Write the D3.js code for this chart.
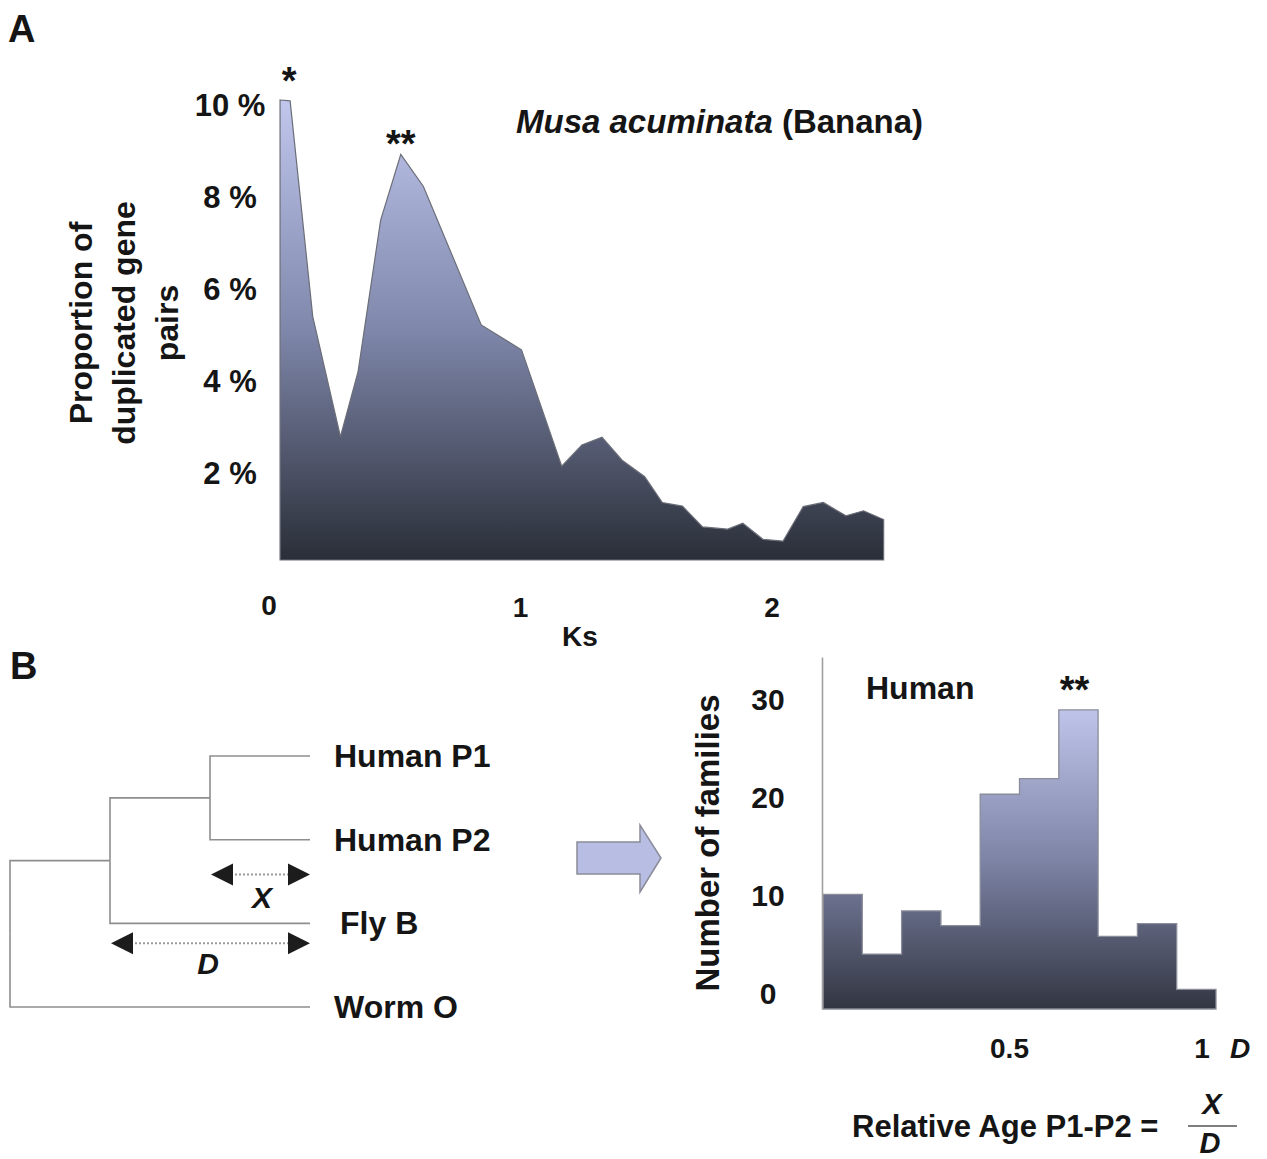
<!DOCTYPE html>
<html>
<head>
<meta charset="utf-8">
<script src="https://cdn.jsdelivr.net/npm/d3@7"></script>
<style>
  body { margin: 0; background: #fff; }
  text { font-family: "Liberation Sans", Arial, sans-serif; font-weight: bold; fill: #151515; }
</style>
</head>
<body>
<div class="myChart"></div>
<script>
var svgWidth = 1267;
var svgHeight = 1159;

// Panel A: Ks distribution (banana)
var ksValues = [0.04, 0.08, 0.17, 0.28, 0.35, 0.44, 0.52, 0.61, 0.84, 1.00, 1.16, 1.24, 1.32, 1.40,
  1.49, 1.56, 1.64, 1.72, 1.82, 1.88, 1.96, 2.04, 2.12, 2.20, 2.29, 2.36, 2.44];
var proportions = [10.0, 9.98, 5.29, 2.68, 4.09, 7.39, 8.82, 8.12, 5.11, 4.57, 2.04, 2.50, 2.67, 2.17,
  1.81, 1.25, 1.17, 0.72, 0.67, 0.80, 0.45, 0.41, 1.16, 1.25, 0.96, 1.07, 0.88];
var percentTicks = [2, 4, 6, 8, 10];
var ksTicks = [0, 1, 2];

// Panel B: histogram of relative ages
var binStarts = [0, 0.1, 0.2, 0.3, 0.4, 0.5, 0.6, 0.7, 0.8, 0.9];
var familyCounts = [10.2, 4.1, 8.5, 7.0, 20.4, 22.0, 29.0, 5.9, 7.2, 0.5];
var familyTicks = [0, 10, 20, 30];
var ageTicks = [0.5, 1];

// Panel B: tree
var treeData = {
  name: "root", children: [
    { name: "n1", children: [
      { name: "n2", children: [{ name: "Human P1" }, { name: "Human P2" }] },
      { name: "Fly B" }
    ] },
    { name: "Worm O" }
  ]
};

var svg = d3.select(".myChart")
  .append("svg")
  .attr("width", svgWidth)
  .attr("height", svgHeight);

var defs = svg.append("defs");

// ---------- panel A ----------
var xScale = d3.scaleLinear().domain([0, 2]).range([270, 773]);
var yScale = d3.scaleLinear().domain([0, 10]).range([560, 100]);

var gradA = defs.append("linearGradient")
  .attr("id", "gradA")
  .attr("gradientUnits", "userSpaceOnUse")
  .attr("x1", 0).attr("x2", 0)
  .attr("y1", yScale(10)).attr("y2", yScale(0));
gradA.append("stop").attr("offset", "0%").attr("stop-color", "#c0c6ec");
gradA.append("stop").attr("offset", "50%").attr("stop-color", "#7f87ab");
gradA.append("stop").attr("offset", "100%").attr("stop-color", "#2a2e38");

var ksData = ksValues.map(function(k, i) { return { ks: k, p: proportions[i] }; });

var area = d3.area()
  .x(function(d) { return xScale(d.ks); })
  .y0(yScale(0))
  .y1(function(d) { return yScale(d.p); });

svg.append("path")
  .datum(ksData)
  .attr("d", area)
  .attr("fill", "url(#gradA)")
  .attr("stroke", "#6b6e78")
  .attr("stroke-width", 1.2);

svg.selectAll(".pctTick")
  .data(percentTicks)
  .enter().append("text")
  .attr("class", "pctTick")
  .attr("x", 230)
  .attr("y", function(d) { return yScale(d) + 16; })
  .attr("text-anchor", "middle")
  .style("font-size", "31px")
  .text(function(d) { return d + " %"; });

svg.selectAll(".ksTick")
  .data(ksTicks)
  .enter().append("text")
  .attr("class", "ksTick")
  .attr("x", function(d) { return xScale(d) - 1; })
  .attr("y", function(d, i) { return i === 0 ? 615 : 617; })
  .attr("text-anchor", "middle")
  .style("font-size", "28px")
  .text(function(d) { return d; });

svg.append("text")
  .attr("x", 580).attr("y", 646)
  .attr("text-anchor", "middle")
  .style("font-size", "28px")
  .text("Ks");

var yLabel = svg.append("text")
  .attr("transform", "translate(0,323) rotate(-90)")
  .attr("text-anchor", "middle")
  .style("font-size", "32px");
["Proportion of", "duplicated gene", "pairs"].forEach(function(t, i) {
  yLabel.append("tspan").attr("x", 0).attr("y", 92 + i * 43).text(t);
});

var title = svg.append("text")
  .attr("x", 516).attr("y", 133)
  .style("font-size", "33px");
title.append("tspan").style("font-style", "italic").text("Musa acuminata");
title.append("tspan").text(" (Banana)");

svg.append("text")
  .attr("x", xScale(0.04) + 9).attr("y", yScale(10) - 6)
  .attr("text-anchor", "middle")
  .style("font-size", "38px")
  .text("*");

svg.append("text")
  .attr("x", xScale(0.52)).attr("y", yScale(8.82) + 3)
  .attr("text-anchor", "middle")
  .style("font-size", "38px")
  .text("**");

svg.append("text").attr("x", 8).attr("y", 42).style("font-size", "38px").text("A");
svg.append("text").attr("x", 10).attr("y", 679).style("font-size", "38px").text("B");

// ---------- panel B: tree ----------
var root = d3.hierarchy(treeData);
// four leaves, one slot each: leaf centres are 3/4 of the layout height apart
d3.cluster().size([334.7, 300]).separation(function() { return 1; })(root);

var tree = svg.append("g").attr("transform", "translate(10,714.2)");

tree.selectAll(".link")
  .data(root.links())
  .enter().append("path")
  .attr("class", "link")
  .attr("fill", "none")
  .attr("stroke", "#8e8e8e")
  .attr("stroke-width", 1.6)
  .attr("d", function(d) {
    return "M" + d.source.y + "," + d.source.x + "V" + d.target.x + "H" + d.target.y;
  });

tree.selectAll(".leaf")
  .data(root.leaves())
  .enter().append("text")
  .attr("class", "leaf")
  .attr("x", function(d) { return d.y + (d.data.name === "Fly B" ? 30 : 24); })
  .attr("y", function(d) { return d.x + 11; })
  .style("font-size", "32px")
  .text(function(d) { return d.data.name; });

function dimArrow(g, x1, x2, y) {
  g.append("line")
    .attr("x1", x1 + 20).attr("x2", x2 - 20)
    .attr("y1", y).attr("y2", y)
    .attr("stroke", "#9a9a9a")
    .attr("stroke-width", 2)
    .attr("stroke-dasharray", "2,2");
  g.append("path")
    .attr("d", "M" + x1 + "," + y + "L" + (x1 + 22) + "," + (y - 11) + "L" + (x1 + 22) + "," + (y + 11) + "Z")
    .attr("fill", "#1c1c1c");
  g.append("path")
    .attr("d", "M" + x2 + "," + y + "L" + (x2 - 22) + "," + (y - 11) + "L" + (x2 - 22) + "," + (y + 11) + "Z")
    .attr("fill", "#1c1c1c");
}

var nodes = {};
root.descendants().forEach(function(n) { nodes[n.data.name] = n; });

var xY = (nodes["Human P2"].x + nodes["Fly B"].x) / 2 - 7;
dimArrow(tree, nodes["n2"].y + 1, nodes["Human P2"].y, xY);
tree.append("text")
  .attr("x", (nodes["n2"].y + nodes["Human P2"].y) / 2 + 2)
  .attr("y", xY + 33)
  .attr("text-anchor", "middle")
  .style("font-size", "30px").style("font-style", "italic")
  .text("X");

var dY = (nodes["Fly B"].x + nodes["Worm O"].x) / 2 - 22;
dimArrow(tree, nodes["n1"].y + 1, nodes["Worm O"].y, dY);
tree.append("text")
  .attr("x", (nodes["n1"].y + nodes["Worm O"].y) / 2 - 2)
  .attr("y", dY + 31)
  .attr("text-anchor", "middle")
  .style("font-size", "30px").style("font-style", "italic")
  .text("D");

// block arrow
svg.append("path")
  .attr("transform", "translate(577,858)")
  .attr("d", "M0,-16H63V-33L84,0L63,34V16H0Z")
  .attr("fill", "#b8bde3")
  .attr("stroke", "#8a8c99")
  .attr("stroke-width", 1.5);

// ---------- panel B: histogram ----------
var hx = d3.scaleLinear().domain([0, 1]).range([823, 1216]);
var hy = d3.scaleLinear().domain([-1.5, 34.4]).range([1009, 657]);

var gradB = defs.append("linearGradient")
  .attr("id", "gradB")
  .attr("gradientUnits", "userSpaceOnUse")
  .attr("x1", 0).attr("x2", 0)
  .attr("y1", hy(29)).attr("y2", hy(-1.5));
gradB.append("stop").attr("offset", "0%").attr("stop-color", "#bfc5ea");
gradB.append("stop").attr("offset", "50%").attr("stop-color", "#7d84a6");
gradB.append("stop").attr("offset", "100%").attr("stop-color", "#323642");

var histData = binStarts.map(function(b, i) { return { x: b, c: familyCounts[i] }; });
histData.push({ x: 1, c: familyCounts[familyCounts.length - 1] });

var stepArea = d3.area()
  .curve(d3.curveStepAfter)
  .x(function(d) { return hx(d.x); })
  .y0(hy(-1.5))
  .y1(function(d) { return hy(d.c); });

svg.append("path")
  .datum(histData)
  .attr("d", stepArea)
  .attr("fill", "url(#gradB)")
  .attr("stroke", "#8a8d99")
  .attr("stroke-width", 1.3);

var leftAxis = d3.axisLeft(hy).tickValues(familyTicks).tickSize(0).tickPadding(0);
var yAx = svg.append("g").attr("transform", "translate(822,0)").call(leftAxis);
yAx.select(".domain").attr("stroke", "#a0a0a0").attr("stroke-width", 1.6);
yAx.selectAll(".tick text")
  .attr("x", -54)
  .attr("text-anchor", "middle")
  .attr("fill", "#151515")
  .style("font-family", "'Liberation Sans', Arial, sans-serif")
  .style("font-weight", "bold")
  .style("font-size", "30px");

svg.selectAll(".ageTick")
  .data(ageTicks)
  .enter().append("text")
  .attr("class", "ageTick")
  .attr("x", function(d) { return hx(d) - (d === 1 ? 14 : 10); })
  .attr("y", 1058)
  .attr("text-anchor", "middle")
  .style("font-size", "28px")
  .text(function(d) { return d; });

svg.append("text")
  .attr("x", hx(1) + 14).attr("y", 1058)
  .style("font-size", "28px").style("font-style", "italic")
  .text("D");

svg.append("text")
  .attr("transform", "translate(719,843) rotate(-90)")
  .attr("text-anchor", "middle")
  .style("font-size", "33px")
  .text("Number of families");

svg.append("text")
  .attr("x", 866).attr("y", 699)
  .style("font-size", "32px")
  .text("Human");

svg.append("text")
  .attr("x", hx(0.65) - 4).attr("y", hy(29) - 7)
  .attr("text-anchor", "middle")
  .style("font-size", "38px")
  .text("**");

// formula
svg.append("text")
  .attr("x", 852).attr("y", 1137)
  .style("font-size", "31px")
  .text("Relative Age P1-P2 =");
svg.append("line")
  .attr("x1", 1188).attr("x2", 1237)
  .attr("y1", 1126).attr("y2", 1126)
  .attr("stroke", "#555").attr("stroke-width", 1.5);
svg.append("text")
  .attr("x", 1212).attr("y", 1114)
  .attr("text-anchor", "middle")
  .style("font-size", "29px").style("font-style", "italic")
  .text("X");
svg.append("text")
  .attr("x", 1210).attr("y", 1153)
  .attr("text-anchor", "middle")
  .style("font-size", "29px").style("font-style", "italic")
  .text("D");
</script>
</body>
</html>
